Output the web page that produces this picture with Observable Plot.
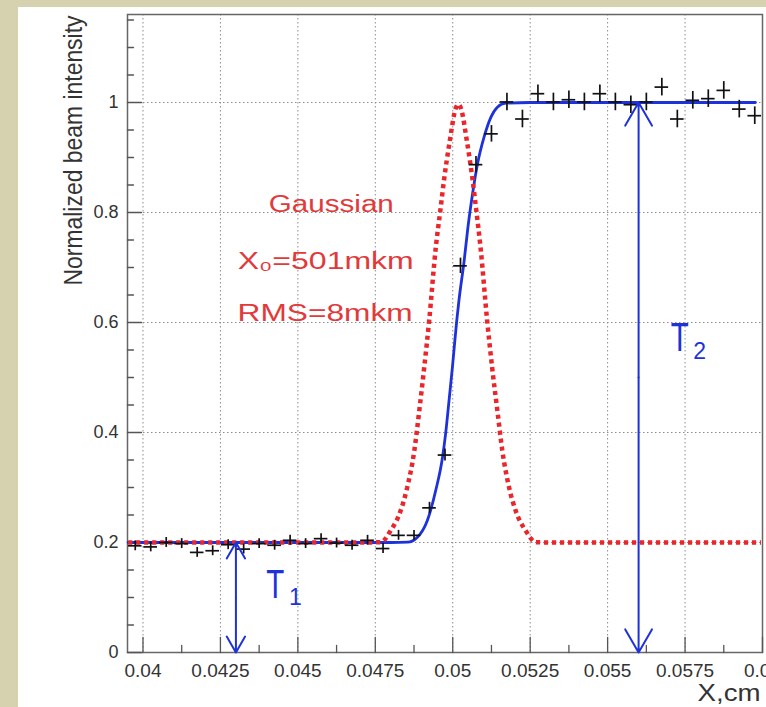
<!DOCTYPE html>
<html><head><meta charset="utf-8">
<script src="https://cdn.jsdelivr.net/npm/d3@7"></script>
<script src="https://cdn.jsdelivr.net/npm/@observablehq/plot@0.6"></script>
<style>
html,body{margin:0;padding:0;}
body{width:766px;height:707px;background:#d6d1ae;position:relative;overflow:hidden;}
#panel{position:absolute;left:18px;top:7px;right:0;bottom:0;background:#fff;}
#chart{position:absolute;left:0;top:0;}
</style></head><body><div id="panel"></div><div id="chart"></div>
<script>
// ---- measured data (bin centres, cm) ----
const binX = [0.03975,0.04025,0.04075,0.04125,0.04175,0.04225,0.04275,0.04325,0.04375,0.04425,
  0.04475,0.04525,0.04575,0.04625,0.04675,0.04725,0.04775,0.04825,0.04875,0.04925,
  0.04975,0.05025,0.05075,0.05125,0.05175,0.05225,0.05275,0.05325,0.05375,0.05425,
  0.05475,0.05525,0.05575,0.05625,0.05675,0.05725,0.05775,0.05825,0.05875,0.05925,0.05975];
const intensity = [0.194,0.192,0.200,0.198,0.182,0.185,0.196,0.188,0.198,0.195,
  0.204,0.198,0.207,0.199,0.195,0.204,0.189,0.213,0.213,0.263,
  0.359,0.703,0.887,0.943,1.001,0.970,1.016,1.001,1.005,1.001,
  1.016,1.001,0.996,1.001,1.028,0.970,1.004,1.007,1.022,0.988,0.976];
const intensityErr = [0.009,0.009,0.009,0.009,0.009,0.009,0.009,0.009,0.009,0.009,
  0.009,0.009,0.009,0.009,0.009,0.009,0.009,0.009,0.009,0.010,
  0.011,0.014,0.015,0.015,0.016,0.016,0.016,0.016,0.016,0.016,
  0.016,0.016,0.016,0.016,0.016,0.016,0.016,0.016,0.016,0.016,0.016];
const binHalfWidth = 0.00022;

// fitted step (blue)
const fitX = [0.03952,0.0480,0.04854,0.04886,0.04918,0.04945,0.04967,0.04977,0.04988,0.04999,
  0.05013,0.05020,0.05037,0.05049,0.05064,0.05080,0.05101,0.05123,0.05144,0.05171,0.0525,0.05977];
const fitY = [0.2,0.2,0.2006,0.2096,0.240,0.2945,0.355,0.398,0.458,0.519,
  0.604,0.640,0.713,0.773,0.834,0.8885,0.937,0.973,0.9915,0.9988,1.0,1.0];

// gaussian beam profile (red dotted)
const gaussX = [0.03952,0.0470,0.04727,0.04768,0.04800,0.04832,0.04853,0.04876,0.04892,0.04908,
  0.04924,0.04945,0.04960,0.04973,0.04989,0.05010,0.05018,0.05026,0.05047,0.05063,
  0.05076,0.05090,0.05111,0.05127,0.05144,0.05160,0.05182,0.05203,0.05235,0.05268,0.05308,0.05995];
const gaussY = [0.2,0.2,0.2,0.2006,0.222,0.258,0.300,0.367,0.440,0.519,
  0.604,0.735,0.804,0.864,0.925,0.990,0.997,0.990,0.925,0.864,
  0.804,0.735,0.604,0.519,0.440,0.367,0.300,0.258,0.222,0.2006,0.2,0.2];

// axes
const xMajor = [0.04,0.0425,0.045,0.0475,0.05,0.0525,0.055,0.0575,0.06];
const xLabels = ["0.04","0.0425","0.045","0.0475","0.05","0.0525","0.055","0.0575","0.06"];
const xMinor = [0.04125,0.04375,0.04625,0.04875,0.05125,0.05375,0.05625,0.05875];
const yMajor = [0,0.2,0.4,0.6,0.8,1.0];
const yLabels = ["0","0.2","0.4","0.6","0.8","1"];
const yMinor = [0.05,0.1,0.15,0.25,0.3,0.35,0.45,0.5,0.55,0.65,0.7,0.75,0.85,0.9,0.95,1.05,1.1,1.15];
const yGrid = [0.2,0.4,0.6,0.8,1.0];

// annotations
const arrowX = [0.0430, 0.0560];
const arrowLow = [0, 0];
const arrowHigh = [0.2, 1.0];
const gaussText = ["Gaussian", "X\u2080=501mkm", "RMS=8mkm"];
const gaussTextX = [0.04608, 0.04590, 0.04588];
const gaussTextY = [0.8005, 0.6976, 0.6036];
const tText = ["T", "T"];
const tTextX = [0.044270, 0.057330];
const tTextY = [0.0995, 0.549];
const tSub = ["1", "2"];
const tSubX = [0.044920, 0.057970];
const tSubY = [0.0855, 0.534];
const yTitle = "Normalized beam intensity";
const xTitle = "X,cm";

const points = binX.map((x, i) => ({x, y: intensity[i], e: intensityErr[i]}));
const fit = fitX.map((x, i) => ({x, y: fitY[i]}));
const gauss = gaussX.map((x, i) => ({x, y: gaussY[i]}));
const arrows = arrowX.map((x, i) => ({x, lo: arrowLow[i], hi: arrowHigh[i]}));
const gLabels = gaussText.map((t, i) => ({t, x: gaussTextX[i], y: gaussTextY[i]}));
const tLabels = tText.map((t, i) => ({t, x: tTextX[i], y: tTextY[i]}));
const sLabels = tSub.map((t, i) => ({t, x: tSubX[i], y: tSubY[i]}));
const xLabelMap = new Map(xMajor.map((d, i) => [d, xLabels[i]]));
const yLabelMap = new Map(yMajor.map((d, i) => [d, yLabels[i]]));

const BLUE = "#1e32dc", RED = "#e8262b", RED_TEXT = "#e2393a";
const tickShape = {draw(ctx, l) { ctx.moveTo(0, 0); ctx.lineTo(0, -l); }};
const gridStyle = {stroke: "#8c8c8c", strokeWidth: 1, strokeDasharray: "1.5,2.5"};

const chart = Plot.plot({
  width: 766, height: 707,
  marginLeft: 127, marginRight: 4, marginTop: 14, marginBottom: 55,
  style: {background: "transparent", fontFamily: "'Liberation Sans', Arial, sans-serif"},
  x: {domain: [0.0395, 0.06]},
  y: {domain: [0, 1.16]},
  marks: [
    Plot.ruleX(xMajor.slice(0, -1), {x: d => d, ...gridStyle}),
    Plot.ruleY(yGrid, {y: d => d, ...gridStyle}),
    Plot.frame({stroke: "#666", strokeWidth: 1.5}),
    Plot.vector(xMajor, {x: d => d, frameAnchor: "bottom", length: 15, anchor: "start", shape: tickShape, stroke: "#555", strokeWidth: 1.3}),
    Plot.vector(xMinor, {x: d => d, frameAnchor: "bottom", length: 7, anchor: "start", shape: tickShape, stroke: "#555", strokeWidth: 1.3}),
    Plot.vector(yMajor, {y: d => d, frameAnchor: "left", length: 14, rotate: 90, anchor: "start", shape: tickShape, stroke: "#555", strokeWidth: 1.3}),
    Plot.vector(yMinor, {y: d => d, frameAnchor: "left", length: 6, rotate: 90, anchor: "start", shape: tickShape, stroke: "#555", strokeWidth: 1.3}),
    Plot.axisX(xMajor, {tickSize: 0, tickPadding: 11, tickFormat: d => xLabelMap.get(d), fontSize: 19, color: "#333", label: null}),
    Plot.axisY(yMajor, {tickSize: 0, tickPadding: 9, tickFormat: d => yLabelMap.get(d), fontSize: 18, color: "#333", label: null}),
    Plot.line(fit, {x: "x", y: "y", stroke: BLUE, strokeWidth: 2.8, curve: "monotone-x"}),
    Plot.line(gauss, {x: "x", y: "y", stroke: RED, strokeWidth: 4.5, strokeDasharray: "4.2,3.8", strokeLinecap: "butt", strokeLinejoin: "miter", curve: "monotone-x"}),
    Plot.ruleX(points, {x: "x", y1: d => d.y - d.e, y2: d => d.y + d.e, stroke: "#111", strokeWidth: 1.7}),
    Plot.ruleY(points, {y: "y", x1: d => d.x - binHalfWidth, x2: d => d.x + binHalfWidth, stroke: "#111", strokeWidth: 1.7}),
    Plot.arrow(arrows, {x: "x", y1: d => (d.lo + d.hi) / 2, y2: "hi", stroke: BLUE, strokeWidth: 2, headLength: 20, headAngle: 60}),
    Plot.arrow(arrows, {x: "x", y1: d => (d.lo + d.hi) / 2, y2: "lo", stroke: BLUE, strokeWidth: 2, headLength: 20, headAngle: 60}),
    Plot.text(gLabels, {x: "x", y: "y", text: "t", fill: RED_TEXT, fontSize: 23, textAnchor: "middle", lineAnchor: "bottom"}),
    Plot.text(tLabels, {x: "x", y: "y", text: "t", fill: BLUE, fontSize: 40, textAnchor: "middle", lineAnchor: "bottom"}),
    Plot.text(sLabels, {x: "x", y: "y", text: "t", fill: BLUE, fontSize: 23, textAnchor: "middle", lineAnchor: "bottom"}),
    Plot.text([yTitle], {text: d => d, frameAnchor: "top-left", dx: -46, dy: 1, rotate: -90, textAnchor: "end", lineAnchor: "bottom", fontSize: 25, fill: "#333"}),
    Plot.text([xTitle], {text: d => d, frameAnchor: "bottom-right", dx: -2, dy: 48, textAnchor: "end", lineAnchor: "bottom", fontSize: 23.5, fill: "#333"})
  ]
});
const stretch = new Map([["Gaussian", 125], ["X\u2080=501mkm", 176], ["RMS=8mkm", 175], ["T", 18], [xTitle, 63], [yTitle, 270]]);
d3.select(chart).selectAll("text").each(function() {
  const w = stretch.get(this.textContent);
  if (w) { this.setAttribute("textLength", w); this.setAttribute("lengthAdjust", "spacingAndGlyphs"); }
});
document.getElementById("chart").appendChild(chart);
</script></body></html>
